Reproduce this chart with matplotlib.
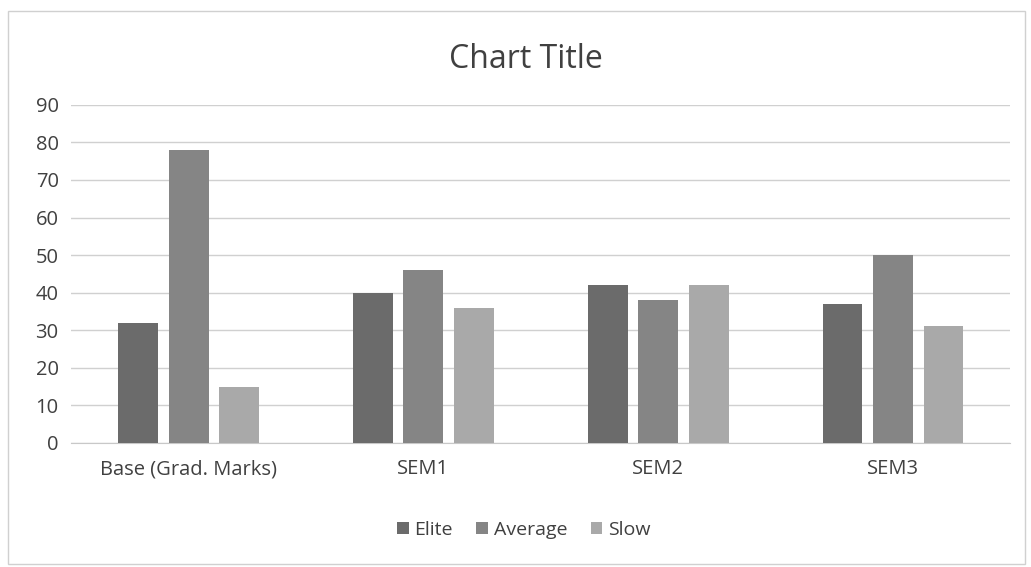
import matplotlib.pyplot as plt
import numpy as np
from matplotlib.patches import Rectangle

categories = ["Base (Grad. Marks)", "SEM1", "SEM2", "SEM3"]
elite = [32, 40, 42, 37]
average = [78, 46, 38, 50]
slow = [15, 36, 42, 31]
series_names = ["Elite", "Average", "Slow"]
colors = ["#6b6b6b", "#858585", "#a9a9a9"]

plt.rcParams['font.family'] = ['Open Sans', 'DejaVu Sans']

fig = plt.figure(figsize=(10.31, 5.67), dpi=100)
ax = fig.add_axes([0.069, 0.219, 0.911, 0.596])

x = np.arange(len(categories))
width = 0.17
offsets = [-0.215, 0, 0.215]
for vals, name, col, off in zip([elite, average, slow], series_names, colors, offsets):
    ax.bar(x + off, vals, width, color=col, label=name, zorder=3)

ax.set_xlim(-0.5, len(categories) - 0.5)
ax.set_ylim(0, 90)
ax.set_yticks(range(0, 91, 10))
ax.set_xticks(x)
ax.set_xticklabels(categories)
ax.tick_params(axis='both', length=0, labelsize=14.5, colors="#404040")
ax.tick_params(axis='y', pad=9)
ax.tick_params(axis='x', pad=12)
ax.grid(axis='y', color="#d0d0d0", linewidth=1, zorder=0)
for s in ["top", "right", "left"]:
    ax.spines[s].set_visible(False)
ax.spines["bottom"].set_color("#c8c8c8")

fig.text(0.51, 0.895, "Chart Title", ha="center", va="center", fontsize=23, color="#404040")
fig.legend(loc="center", bbox_to_anchor=(0.508, 0.065), ncol=3, frameon=False,
           fontsize=14, handlelength=0.6, handleheight=0.6, handletextpad=0.3,
           columnspacing=1.2, labelcolor="#404040")

fig.patches.append(Rectangle((0.008, 0.005), 0.986, 0.975, transform=fig.transFigure,
                             fill=False, edgecolor="#d0d0d0", linewidth=1))

fig.savefig("out.png", dpi=100)
